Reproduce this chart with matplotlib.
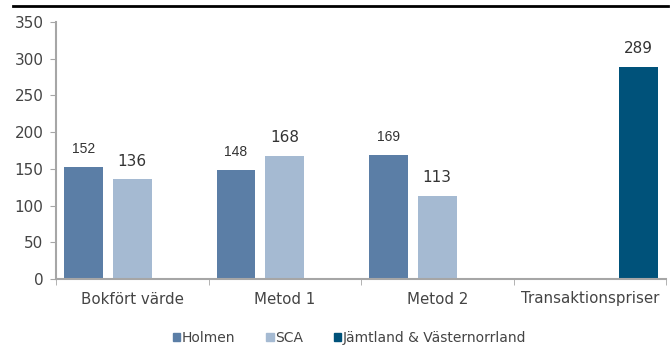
import matplotlib
matplotlib.use("Agg")
import matplotlib.pyplot as plt
import numpy as np
from matplotlib.lines import Line2D
from matplotlib.patches import Patch

categories = ["Bokfört värde", "Metod 1", "Metod 2", "Transaktionspriser"]
series_names = ["Holmen", "SCA", "Jämtland & Västernorrland"]
holmen = [152, 148, 169, None]
sca = [136, 168, 113, None]
jamtland = [None, None, None, 289]
colors = ["#5b7ea6", "#a5bad2", "#00527a"]
yticks = [0, 50, 100, 150, 200, 250, 300, 350]

fig = plt.figure(figsize=(6.72, 3.45), dpi=100)
ax = fig.add_axes([56/672, 1-279/345, 610/672, 257/345])

x = np.arange(len(categories))
slot = 0.32
width = 0.255
label_color = "#333333"
tick_color = "#444444"
for i, (vals, col) in enumerate(zip([holmen, sca, jamtland], colors)):
    xs = [xi + (i-1)*slot for xi, v in zip(x, vals) if v is not None]
    vs = [v for v in vals if v is not None]
    bars = ax.bar(xs, vs, width=width, color=col, label=series_names[i], zorder=2)
    for b, v in zip(bars, vs):
        if i == 0:
            ax.annotate(str(v), (b.get_x()+b.get_width()/2, v), xytext=(0, 13),
                        textcoords="offset points", ha="center", va="center",
                        fontsize=10, family="Liberation Sans", color=label_color)
        else:
            ax.annotate(str(v), (b.get_x()+b.get_width()/2, v), xytext=(0, 13),
                        textcoords="offset points", ha="center", va="center",
                        fontsize=11, family="DejaVu Sans", color=label_color)

ax.set_xlim(-0.5, 3.5)
ax.set_ylim(0, 350)
ax.set_yticks(yticks)
ax.set_yticklabels([str(t) for t in yticks], fontsize=11, color=tick_color)
ax.set_xticks(x)
ax.set_xticklabels(categories, fontsize=10.8, color=tick_color)
ax.tick_params(axis="x", length=0, pad=9)
ax.set_xticks(np.arange(-0.5, 4.0, 1.0), minor=True)
ax.tick_params(axis="x", which="minor", length=4, color="#a6a6a6", direction="out")
ax.tick_params(axis="y", length=4, color="#a6a6a6", pad=5)
for s in ["top", "right"]:
    ax.spines[s].set_visible(False)
for s in ["left", "bottom"]:
    ax.spines[s].set_color("#a6a6a6")
    ax.spines[s].set_linewidth(1.5)

fig.add_artist(Line2D([13/672, 668/672], [1-5.5/345, 1-5.5/345],
                      color="black", linewidth=2, transform=fig.transFigure))

handles = [Patch(color=c) for c in colors]
fig.legend(handles, series_names, loc="center", bbox_to_anchor=(0.52, 1-338/345),
           ncol=3, frameon=False, fontsize=10, handlelength=0.55, handleheight=0.55,
           handletextpad=0.1, columnspacing=2.2, labelcolor=tick_color)

fig.savefig("out.png", dpi=100)
